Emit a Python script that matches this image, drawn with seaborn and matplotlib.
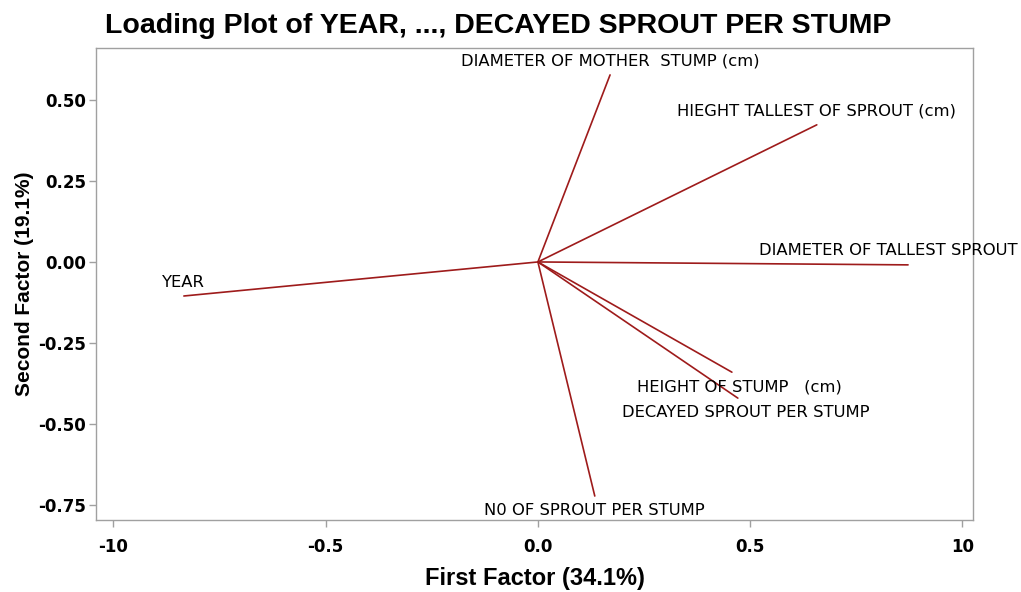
import matplotlib
matplotlib.use("Agg")
import matplotlib.pyplot as plt
import seaborn as sns
import pandas as pd
from matplotlib import font_manager

variables = [
    "YEAR",
    "DIAMETER OF MOTHER  STUMP (cm)",
    "HIEGHT TALLEST OF SPROUT (cm)",
    "DIAMETER OF TALLEST SPROUT",
    "HEIGHT OF STUMP   (cm)",
    "DECAYED SPROUT PER STUMP",
    "N0 OF SPROUT PER STUMP",
]
first_factor = [-0.834, 0.170, 0.657, 0.872, 0.457, 0.471, 0.134]
second_factor = [-0.105, 0.577, 0.423, -0.009, -0.340, -0.420, -0.722]

x_ticks = [-1.0, -0.5, 0.0, 0.5, 1.0]
x_tick_labels = ["-10", "-0.5", "0.0", "0.5", "10"]
y_ticks = [-0.75, -0.50, -0.25, 0.00, 0.25, 0.50]
y_tick_labels = ["-0.75", "-0.50", "-0.25", "0.00", "0.25", "0.50"]

sns.set_theme(style="white")
names = {f.name for f in font_manager.fontManager.ttflist}
narrow = "Liberation Sans Narrow" if "Liberation Sans Narrow" in names else "Liberation Sans"
plt.rcParams["font.family"] = ["DejaVu Sans"]
plt.rcParams["text.color"] = "black"
plt.rcParams["axes.labelcolor"] = "black"
plt.rcParams["xtick.color"] = "black"
plt.rcParams["ytick.color"] = "black"

rows = []
for v, a, b in zip(variables, first_factor, second_factor):
    rows.append({"var": v, "x": 0.0, "y": 0.0})
    rows.append({"var": v, "x": a, "y": b})
df = pd.DataFrame(rows)

fig = plt.figure(figsize=(10.21, 5.92), dpi=100)
ax = fig.add_axes([96 / 1021, 1 - 520 / 592, (973 - 96) / 1021, (520 - 48) / 592])

sns.lineplot(data=df, x="x", y="y", units="var", estimator=None, sort=False,
             color="#9E1B1B", linewidth=1.2, ax=ax, legend=False)

tweak = {"DIAMETER OF TALLEST SPROUT": -20, "HEIGHT OF STUMP   (cm)": 8,
         "DECAYED SPROUT PER STUMP": 8}
for v, a, b in zip(variables, first_factor, second_factor):
    dy = 10 if b > -0.2 else -10.5
    ax.annotate(v, (a, b), xytext=(tweak.get(v, 0) * 0.72, dy), textcoords="offset points",
                ha="center", va="center", fontsize=11.8, color="black",
                annotation_clip=False)

ax.set_xlim(-1.041, 1.025)
ax.set_ylim(-0.796, 0.66)
ax.set_xticks(x_ticks)
ax.set_xticklabels(x_tick_labels)
ax.set_yticks(y_ticks)
ax.set_yticklabels(y_tick_labels)
for lab in ax.get_xticklabels() + ax.get_yticklabels():
    lab.set_fontweight("bold")
    lab.set_fontsize(12)
    lab.set_color("black")
for s in ax.spines.values():
    s.set_color("#A0A0A0")
    s.set_linewidth(1.0)
ax.tick_params(axis="both", which="major", direction="out", length=5, width=1,
               color="#A0A0A0", bottom=True, left=True)
ax.tick_params(axis="y", pad=2)
ax.tick_params(axis="x", pad=8)

ax.set_xlabel("First Factor (34.1%)", fontsize=17, fontweight="bold", family=narrow,
              labelpad=8, color="black")
ax.set_ylabel("Second Factor (19.1%)", fontsize=15, fontweight="bold", family=narrow,
              labelpad=3, color="black")
fig.suptitle("Loading Plot of YEAR, ..., DECAYED SPROUT PER STUMP", x=0.488, y=0.978,
             fontsize=20.5, fontweight="bold", family=narrow, color="black")

fig.savefig("out.png", dpi=100)
